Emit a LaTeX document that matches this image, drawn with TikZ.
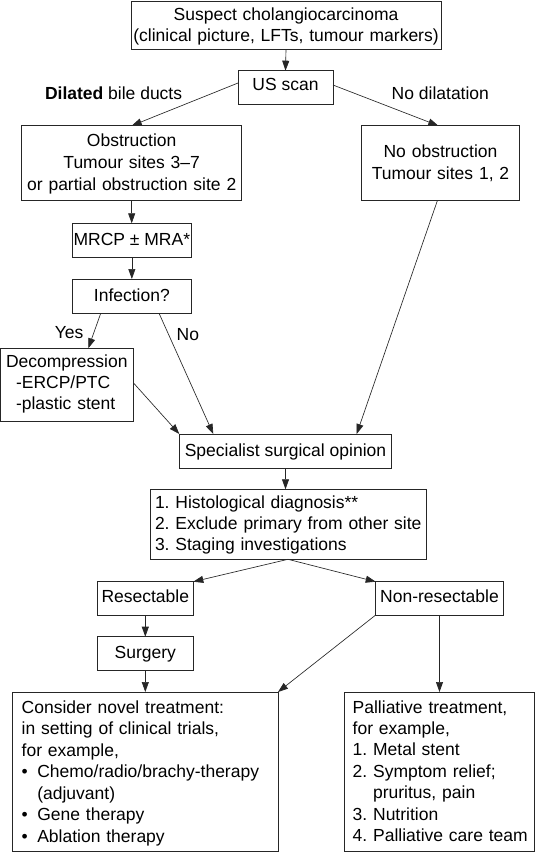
\documentclass[tikz,border=0pt]{standalone}
\usepackage{fontspec}
\setmainfont{Liberation Sans}
\usetikzlibrary{arrows.meta,calc}
\tikzset{
  bx/.style={draw=black!85, line width=0.9pt, inner sep=0pt, outer sep=0pt,
    anchor=north west, font=\fontsize{17.5pt}{21.5pt}\selectfont\frenchspacing},
  lbl/.style={inner sep=0pt, outer sep=0pt, font=\fontsize{17.5pt}{21.5pt}\selectfont},
  arr/.style={draw=black!85, line width=0.65pt, -{Triangle[length=10pt,width=7pt]}},
}
\begin{document}
\frenchspacing
\begin{tikzpicture}[x=1pt,y=-1pt]
\useasboundingbox (0,0) rectangle (536,853);
\fill[white] (0,0) rectangle (536,853);

\node[bx, text width=306pt, inner xsep=2pt, align=center, text height=19.7pt, text depth=28.6pt,
  font=\fontsize{17.5pt}{20.5pt}\selectfont] (top) at (131,1)
  {Suspect cholangiocarcinoma\\\mbox{(clinical picture, LFTs, tumour markers)}};

\node[bx, minimum width=95pt, text height=20.3pt, text depth=13pt] (us) at (238,70.7) {US scan};

\node[lbl, anchor=base west] (dil) at (45,99.3) {\textbf{Dilated} bile ducts};
\node[lbl, anchor=base west] (nodil) at (391.7,100) {No dilatation};

\node[bx, text width=216pt, inner xsep=2pt, align=center, text height=21pt, text depth=54pt,
  font=\fontsize{17.5pt}{21.7pt}\selectfont] (obs) at (21.7,125.7)
  {Obstruction\\Tumour sites 3--7\\\mbox{or partial obstruction site 2}};

\node[bx, text width=153.6pt, inner xsep=2pt, align=center, text height=31.6pt, text depth=43.4pt,
  font=\fontsize{17.5pt}{22pt}\selectfont] (noobs) at (361.7,125.7)
  {No obstruction\\Tumour sites 1, 2};

\node[bx, minimum width=118.3pt, text height=22.2pt, text depth=11.8pt] (mrcp) at (72.7,223.3) {MRCP ± MRA*};
\node[bx, minimum width=118.3pt, text height=22.7pt, text depth=11.6pt] (inf) at (72.7,279) {Infection?};

\node[lbl, anchor=base east] (yes) at (83.3,338.5) {Yes};
\node[lbl, anchor=base west] (no) at (176.7,340) {No};

\node[bx, text width=121.8pt, inner xsep=5.5pt, align=left, text height=19pt, text depth=54.4pt,
  font=\fontsize{17.5pt}{21pt}\selectfont] (dec) at (0.5,348.3)
  {\mbox{Decompression}\\\hspace*{10pt}-ERCP/PTC\\\hspace*{10pt}-plastic stent};

\node[bx, minimum width=212.4pt, text height=22pt, text depth=12.3pt] (spec) at (179.3,434) {Specialist surgical opinion};

\node[bx, text width=266pt, inner xsep=5pt, align=left, text height=19pt, text depth=51pt,
  font=\fontsize{17.5pt}{21.2pt}\selectfont\frenchspacing] (hist) at (150,489.3)
  {\mbox{1. Histological diagnosis**}\\\mbox{2. Exclude primary from other site}\\\mbox{3. Staging investigations}};

\node[bx, minimum width=96pt, text height=21pt, text depth=12.3pt] (res) at (97.3,581.7) {Resectable};
\node[bx, minimum width=127.6pt, text height=21pt, text depth=12.3pt] (nonres) at (375.7,581.7) {Non-resectable};
\node[bx, minimum width=96pt, text height=21.8pt, text depth=12.2pt] (surg) at (97.3,636.7) {Surgery};

\node[bx, text width=247.3pt, inner xsep=9pt, align=left, text height=21pt, text depth=138pt,
  font=\fontsize{17.5pt}{21.5pt}\selectfont\frenchspacing] (cons) at (12.7,692)
  {Consider novel treatment:\\in setting of clinical trials,\\for example,\\
   \mbox{\makebox[15.6pt][l]{\textbullet}Chemo/radio/brachy-therapy}\\
   \hspace*{15.6pt}(adjuvant)\\
   \makebox[15.6pt][l]{\textbullet}Gene therapy\\
   \makebox[15.6pt][l]{\textbullet}Ablation therapy};

\node[bx, text width=172.6pt, inner xsep=8.7pt, align=left, text height=21pt, text depth=138pt,
  font=\fontsize{17.5pt}{21.4pt}\selectfont\frenchspacing] (pall) at (344,692)
  {\mbox{Palliative treatment,}\\for example,\\\mbox{1. Metal stent}\\\mbox{2. Symptom relief;}\\
   \mbox{\phantom{2. }pruritus, pain}\\\mbox{3. Nutrition}\\\mbox{4. Palliative care team}};

% connectors
\draw[arr] (top.south) -- (us.north);
\draw[arr] ($(us.north west)!0.37!(us.south west)$) -- (obs.north);
\draw[arr] ($(us.north east)!0.43!(us.south east)$) -- ($(noobs.north west)!0.486!(noobs.north east)$);
\draw[arr] (obs.south) -- (obs.south |- mrcp.north);
\draw[arr] (mrcp.south) -- (inf.north);
\draw[arr] ($(inf.south west)!0.237!(inf.south east)$) -- ($(dec.north west)!0.661!(dec.north east)$);
\draw[arr] ($(inf.south west)!0.73!(inf.south east)$) -- ($(spec.north west)!0.16!(spec.north east)$);
\draw[arr] ($(dec.north east)!0.469!(dec.south east)$) -- (spec.north west);
\draw[arr] ($(noobs.south west)!0.48!(noobs.south east)$) -- ($(spec.north west)!0.835!(spec.north east)$);
\draw[arr] (spec.south) -- (spec.south |- hist.north);
\draw[arr] (hist.south) -- (res.north east);
\draw[arr] (hist.south) -- (nonres.north west);
\draw[arr] (res.south) -- (surg.north);
\draw[arr] (surg.south) -- (surg.south |- cons.north);
\draw[arr] (nonres.south west) -- (cons.north east);
\draw[arr] (nonres.south) -- (nonres.south |- pall.north);
\end{tikzpicture}
\end{document}
